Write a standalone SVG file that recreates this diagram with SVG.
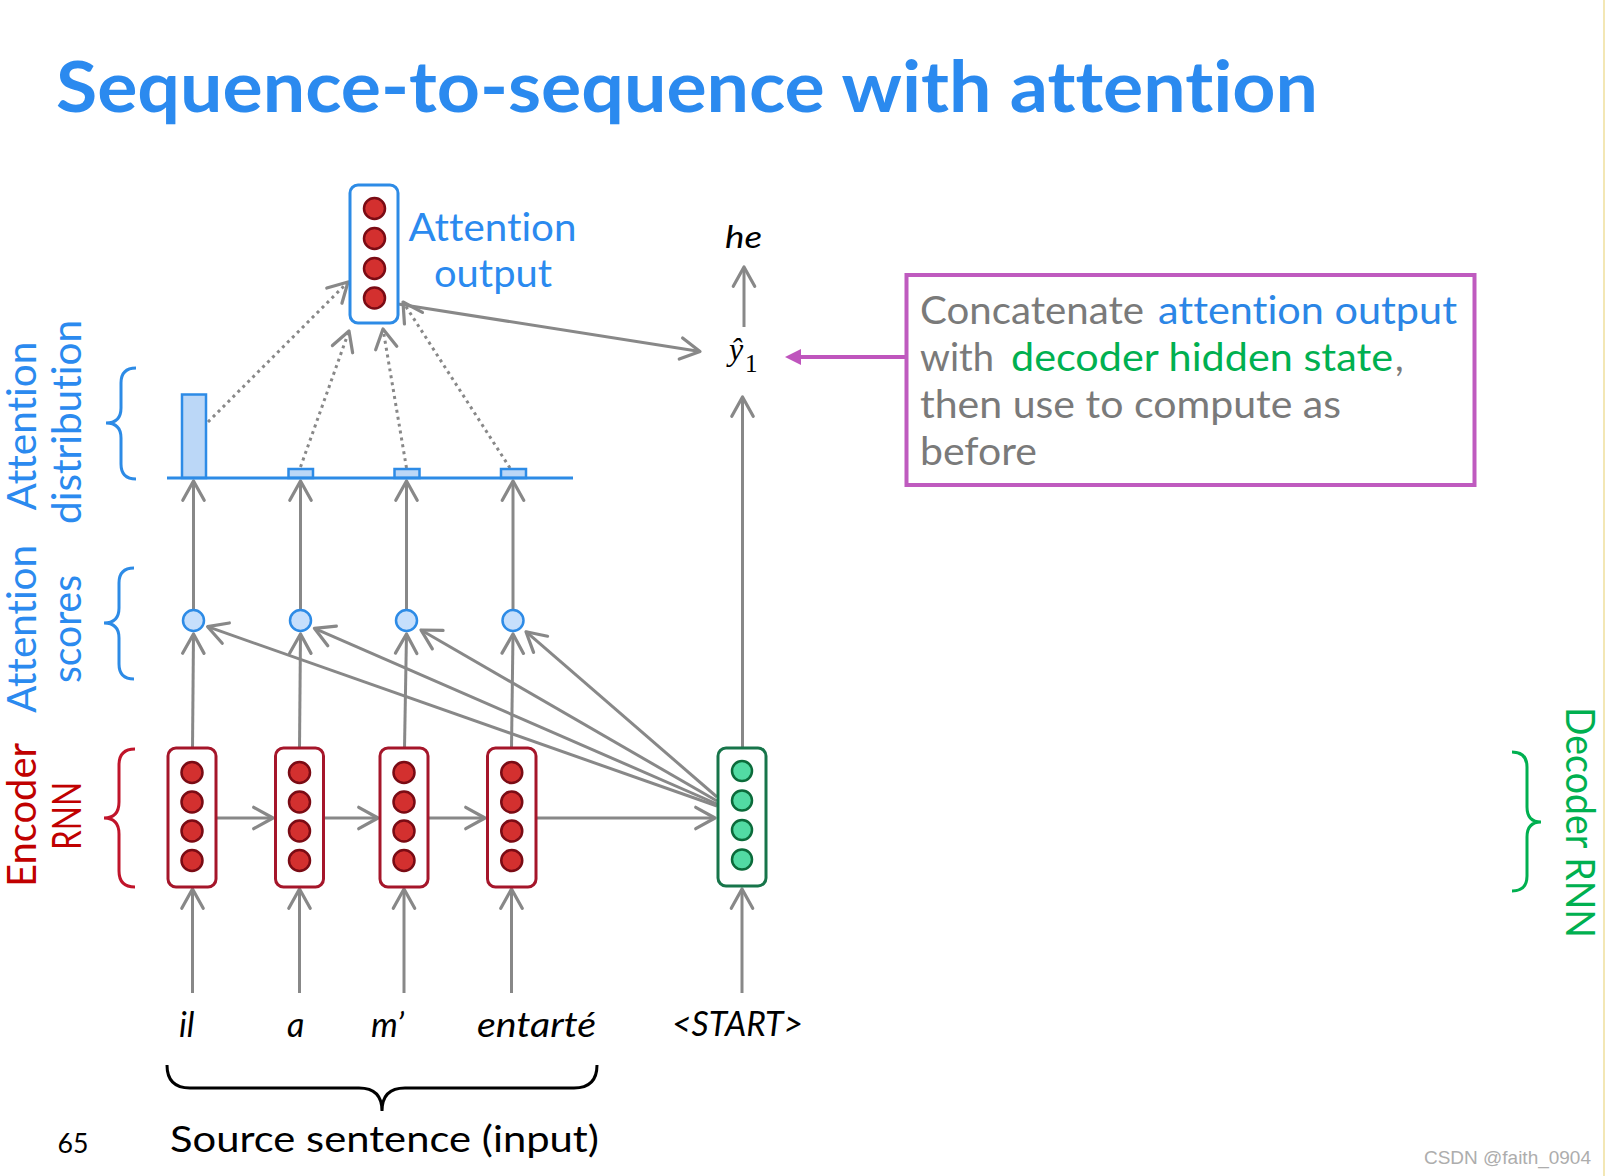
<svg xmlns="http://www.w3.org/2000/svg" width="1606" height="1176" viewBox="0 0 1606 1176">
<style>
.t{font-family:Lato,"Open Sans","DejaVu Sans",sans-serif;font-variant-ligatures:none;font-feature-settings:"liga" 0,"clig" 0,"dlig" 0}
.gray{stroke:#888;stroke-width:3;fill:none}
.dot{stroke:#888;stroke-width:3;fill:none;stroke-dasharray:3 4}
.ebox{fill:#fff;stroke:#A5162A;stroke-width:3}
.dbox{fill:#fff;stroke:#17754A;stroke-width:3}
.abox{fill:#fff;stroke:#2D8BE6;stroke-width:3}
.rc{fill:#D3302F;stroke:#7A0B14;stroke-width:2.5}
.gc{fill:#52DBA3;stroke:#0B6B3A;stroke-width:2.5}
.sc{fill:#C6DFFC;stroke:#2D8BE6;stroke-width:2.5}
.bar{fill:#BBD7F7;stroke:#2D8BE6;stroke-width:2.5}
.blue{fill:#2B8AEF}
.brace{fill:none;stroke-width:3}
</style>
<defs>
<marker id="ah" markerUnits="userSpaceOnUse" markerWidth="30" markerHeight="30" viewBox="-22 -14 26 28" refX="0" refY="0" orient="auto" overflow="visible">
<path d="M-18,-10 L0,0 L-18,10" fill="none" stroke="#888" stroke-width="3" stroke-linecap="round" stroke-linejoin="round"/>
</marker>
<marker id="mh" markerUnits="userSpaceOnUse" markerWidth="20" markerHeight="20" viewBox="0 -10 20 20" refX="0" refY="0" orient="auto" overflow="visible">
<path d="M0,-8 L16,0 L0,8 Z" fill="#BF55BD"/>
</marker>
</defs>
<rect width="1606" height="1176" fill="#fff"/>
<line x1="1604" y1="0" x2="1604" y2="1176" stroke="#F3E7B5" stroke-width="2"/>

<text id="title" class="t blue" x="56" y="112" font-size="70" font-weight="bold" textLength="1262" lengthAdjust="spacingAndGlyphs">Sequence-to-sequence with attention</text>

<g id="connectors">
<path class="gray" marker-end="url(#ah)" d="M192.5,993 L192.5,889"/>
<path class="gray" marker-end="url(#ah)" d="M299.5,993 L299.5,889"/>
<path class="gray" marker-end="url(#ah)" d="M404,993 L404,889"/>
<path class="gray" marker-end="url(#ah)" d="M511.5,993 L511.5,889"/>
<path class="gray" marker-end="url(#ah)" d="M742,993 L742,889"/>
<path class="gray" marker-end="url(#ah)" d="M216,818 L273,818"/>
<path class="gray" marker-end="url(#ah)" d="M323.5,818 L378,818"/>
<path class="gray" marker-end="url(#ah)" d="M428,818 L485,818"/>
<path class="gray" marker-end="url(#ah)" d="M536,818 L715,818"/>
<path class="gray" marker-end="url(#ah)" d="M192.5,748 L193.5,634"/>
<path class="gray" marker-end="url(#ah)" d="M299.5,748 L300.5,634"/>
<path class="gray" marker-end="url(#ah)" d="M404.5,748 L406.5,634"/>
<path class="gray" marker-end="url(#ah)" d="M511.5,748 L513,634"/>
<path class="gray" marker-end="url(#ah)" d="M717,806 L207.6,626.7"/>
<path class="gray" marker-end="url(#ah)" d="M717,804 L314.4,628.3"/>
<path class="gray" marker-end="url(#ah)" d="M717,801 L421,630"/>
<path class="gray" marker-end="url(#ah)" d="M717,797 L526,631.7"/>
<path class="gray" marker-end="url(#ah)" d="M193.5,609 L193.5,481"/>
<path class="gray" marker-end="url(#ah)" d="M300.5,609 L300.5,481"/>
<path class="gray" marker-end="url(#ah)" d="M406.5,609 L406.5,481"/>
<path class="gray" marker-end="url(#ah)" d="M513,609 L513,481"/>
<path class="dot" marker-end="url(#ah)" d="M208,422 L348,282"/>
<path class="dot" marker-end="url(#ah)" d="M300.5,467 L349,331"/>
<path class="dot" marker-end="url(#ah)" d="M406.5,468 L383,329"/>
<path class="dot" marker-end="url(#ah)" d="M510,468 L403,302"/>
<path class="gray" marker-end="url(#ah)" d="M398,304 L700,351.5"/>
<path class="gray" marker-end="url(#ah)" d="M742.5,748 L742.5,397"/>
<path class="gray" marker-end="url(#ah)" d="M744,327 L744,267"/>
<path fill="none" stroke="#BF55BD" stroke-width="4" marker-end="url(#mh)" d="M906,357 L801,357"/>
</g>

<g id="encoder-1">
<rect class="ebox" x="168" y="748" width="48" height="139" rx="8"/>
<circle class="rc" cx="192" cy="772.5" r="10.5"/><circle class="rc" cx="192" cy="802" r="10.5"/><circle class="rc" cx="192" cy="831" r="10.5"/><circle class="rc" cx="192" cy="860.5" r="10.5"/>
</g>
<g id="encoder-2">
<rect class="ebox" x="275.5" y="748" width="48" height="139" rx="8"/>
<circle class="rc" cx="299.5" cy="772.5" r="10.5"/><circle class="rc" cx="299.5" cy="802" r="10.5"/><circle class="rc" cx="299.5" cy="831" r="10.5"/><circle class="rc" cx="299.5" cy="860.5" r="10.5"/>
</g>
<g id="encoder-3">
<rect class="ebox" x="380" y="748" width="48" height="139" rx="8"/>
<circle class="rc" cx="404" cy="772.5" r="10.5"/><circle class="rc" cx="404" cy="802" r="10.5"/><circle class="rc" cx="404" cy="831" r="10.5"/><circle class="rc" cx="404" cy="860.5" r="10.5"/>
</g>
<g id="encoder-4">
<rect class="ebox" x="487.5" y="748" width="48.5" height="139" rx="8"/>
<circle class="rc" cx="511.75" cy="772.5" r="10.5"/><circle class="rc" cx="511.75" cy="802" r="10.5"/><circle class="rc" cx="511.75" cy="831" r="10.5"/><circle class="rc" cx="511.75" cy="860.5" r="10.5"/>
</g>
<g id="decoder">
<rect class="dbox" x="718" y="748" width="48" height="138" rx="8"/>
<circle class="gc" cx="742" cy="771" r="10"/><circle class="gc" cx="742" cy="800.5" r="10"/><circle class="gc" cx="742" cy="830" r="10"/><circle class="gc" cx="742" cy="859.5" r="10"/>
</g>
<g id="attention-output">
<rect class="abox" x="350" y="185" width="48" height="138" rx="8"/>
<circle class="rc" cx="374.5" cy="208.5" r="10.5"/><circle class="rc" cx="374.5" cy="238.5" r="10.5"/><circle class="rc" cx="374.5" cy="268.5" r="10.5"/><circle class="rc" cx="374.5" cy="298" r="10.5"/>
<text class="t blue" x="408.5" y="241" font-size="38" textLength="168" lengthAdjust="spacingAndGlyphs">Attention</text>
<text class="t blue" x="434" y="287" font-size="38" textLength="118" lengthAdjust="spacingAndGlyphs">output</text>
</g>
<g id="scores">
<circle class="sc" cx="193.5" cy="620.5" r="10.5"/>
<circle class="sc" cx="300.5" cy="620.5" r="10.5"/>
<circle class="sc" cx="406.5" cy="620.5" r="10.5"/>
<circle class="sc" cx="513" cy="620.5" r="10.5"/>
</g>
<g id="distribution">
<rect class="bar" x="182" y="394.5" width="24" height="83.5"/>
<rect class="bar" x="288.5" y="469" width="24.5" height="9"/>
<rect class="bar" x="394.5" y="469" width="25" height="9"/>
<rect class="bar" x="501" y="469" width="25" height="9"/>
<line x1="167" y1="478" x2="573" y2="478" stroke="#2D8BE6" stroke-width="3"/>
</g>
<g id="y-hat">
<text x="729" y="360" font-family="'Liberation Serif',serif" font-style="italic" font-size="32">ŷ</text>
<text x="745" y="372" font-family="'Liberation Serif',serif" font-size="25">1</text>
</g>
<g id="he">
<text class="t" x="725" y="248" font-size="31" font-style="italic" textLength="37" lengthAdjust="spacingAndGlyphs">he</text>
</g>
<g id="callout">
<rect x="906.5" y="275" width="568" height="210" fill="#fff" stroke="#BF5BBF" stroke-width="4"/>
<g class="t" font-size="38">
<text x="920" y="324" fill="#7A7A7A" textLength="224" lengthAdjust="spacingAndGlyphs">Concatenate</text>
<text x="1158" y="324" fill="#2B86E6" textLength="299" lengthAdjust="spacingAndGlyphs">attention output</text>
<text x="920" y="371" fill="#7A7A7A" textLength="74" lengthAdjust="spacingAndGlyphs">with</text>
<text x="1011" y="371" fill="#00B050" textLength="382" lengthAdjust="spacingAndGlyphs">decoder hidden state</text>
<text x="1395" y="371" fill="#7A7A7A">,</text>
<text x="920" y="418" fill="#7A7A7A" textLength="421" lengthAdjust="spacingAndGlyphs">then use to compute as</text>
<text x="920" y="465" fill="#7A7A7A" textLength="117" lengthAdjust="spacingAndGlyphs">before</text>
</g>
</g>
<g id="label-attention-distribution">
<path class="brace" stroke="#2D8BE6" d="M136,368 Q121,368 121,383 L121,408 Q121,423 106,423 Q121,423 121,438 L121,464 Q121,479 136,479"/>
<text class="t blue" font-size="40" text-anchor="middle" transform="translate(36,426) rotate(-90)" textLength="169" lengthAdjust="spacingAndGlyphs">Attention</text>
<text class="t blue" font-size="40" text-anchor="middle" transform="translate(81,422) rotate(-90)" textLength="204" lengthAdjust="spacingAndGlyphs">distribution</text>
</g>
<g id="label-attention-scores">
<path class="brace" stroke="#2D8BE6" d="M134,568 Q119,568 119,583 L119,608 Q119,623 104,623 Q119,623 119,638 L119,664 Q119,679 134,679"/>
<text class="t blue" font-size="40" text-anchor="middle" transform="translate(36,629) rotate(-90)" textLength="168" lengthAdjust="spacingAndGlyphs">Attention</text>
<text class="t blue" font-size="40" text-anchor="middle" transform="translate(81,629) rotate(-90)" textLength="108" lengthAdjust="spacingAndGlyphs">scores</text>
</g>
<g id="label-encoder">
<path class="brace" stroke="#C0142A" d="M135,749 Q119,749 119,765 L119,802 Q119,818 104,818 Q119,818 119,834 L119,871 Q119,887 135,887"/>
<text class="t" fill="#C00000" font-size="40" text-anchor="middle" transform="translate(36,815) rotate(-90)" textLength="144" lengthAdjust="spacingAndGlyphs">Encoder</text>
<text class="t" fill="#C00000" font-size="40" text-anchor="middle" transform="translate(81,816) rotate(-90)" textLength="68" lengthAdjust="spacingAndGlyphs">RNN</text>
</g>
<g id="label-decoder">
<path class="brace" stroke="#00B050" d="M1512,752 Q1527,752 1527,767 L1527,807 Q1527,822 1541,822 Q1527,822 1527,837 L1527,876 Q1527,891 1512,891"/>
<text class="t" fill="#00B050" font-size="40" text-anchor="middle" transform="translate(1566,822.5) rotate(90)" textLength="231" lengthAdjust="spacingAndGlyphs">Decoder RNN</text>
</g>
<g id="inputs" class="t" font-size="34" font-style="italic">
<text x="179" y="1036.5">il</text>
<text x="287" y="1036.5">a</text>
<text x="371" y="1036.5">m’</text>
<text x="477" y="1036.5" textLength="119" lengthAdjust="spacingAndGlyphs">entarté</text>
<text x="672" y="1036" textLength="131" lengthAdjust="spacingAndGlyphs">&lt;START&gt;</text>
</g>
<g id="source-label">
<path class="brace" stroke="#000" d="M167,1065 Q167,1088 190,1088 L359,1088 Q382,1088 382,1111 Q382,1088 405,1088 L574,1088 Q597,1088 597,1065"/>
<text class="t" x="170" y="1152" font-size="37" textLength="429" lengthAdjust="spacingAndGlyphs">Source sentence (input)</text>
</g>
<text class="t" x="57.5" y="1153" font-size="27" textLength="31" lengthAdjust="spacingAndGlyphs">65</text>
<text x="1424" y="1164" font-family="'Liberation Sans',Arial,sans-serif" font-size="18.5" fill="#ADADAD" textLength="167" lengthAdjust="spacingAndGlyphs">CSDN @faith_0904</text>
</svg>
